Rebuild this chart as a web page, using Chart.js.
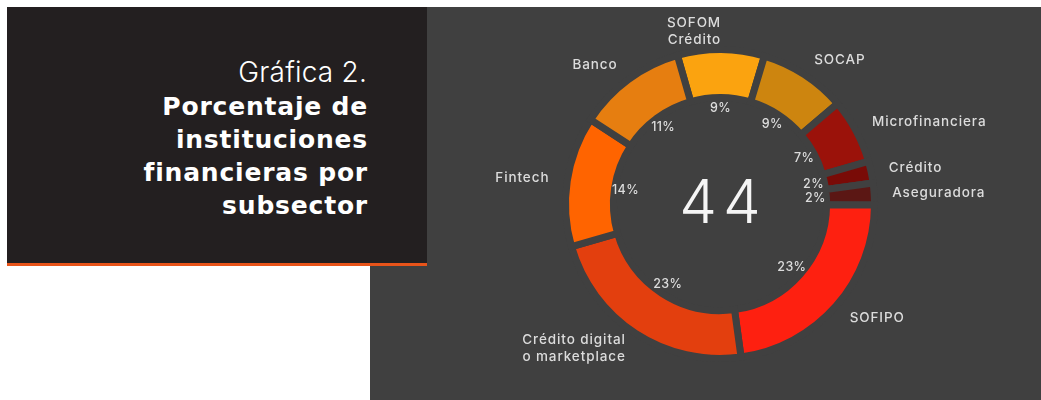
<!DOCTYPE html>
<html lang="es">
<head>
<meta charset="utf-8">
<title>Gráfica 2. Porcentaje de instituciones financieras por subsector</title>
<script src="https://cdn.jsdelivr.net/npm/chart.js@4.4.1/dist/chart.umd.min.js"></script>
<style>
  html, body { margin: 0; padding: 0; background: #ffffff; }
  body { width: 1041px; height: 400px; position: relative; overflow: hidden; font-family: Inter, "Open Sans", sans-serif; }
  .panel { position: absolute; left: 370px; top: 7px; width: 671px; height: 393px; background: #404040; }
  .panel canvas { position: absolute; left: 0; top: 0; }
  .title-box { position: absolute; left: 7px; top: 7px; width: 420px; height: 256px; background: #231f20; border-bottom: 3px solid #e8541a; }
  .title-box .t1, .title-box .t2 { position: absolute; left: 0; width: 360px; text-align: right; color: #ffffff; }
  .t1 { top: 49px; font-size: 28px; line-height: 32px; font-weight: 300; letter-spacing: 0.2px; }
  .t2 { top: 83px; width: 361px !important; font-family: "DejaVu Sans", Inter, sans-serif; font-size: 25px; line-height: 33px; font-weight: 700; letter-spacing: 0.8px; }
</style>
</head>
<body>
<div class="panel"><canvas id="donut" width="671" height="393"></canvas></div>
<div class="title-box">
  <div class="t1">Gráfica 2.</div>
  <div class="t2">Porcentaje de<br>instituciones<br>financieras por<br>subsector</div>
</div>
<script>
// subsectors, clockwise starting at the top
const subsectors = [
  ['SOFOM', 'Crédito'],
  'SOCAP',
  'Microfinanciera',
  'Crédito',
  'Aseguradora',
  'SOFIPO',
  ['Crédito digital', 'o marketplace'],
  'Fintech',
  'Banco'
];

// number of institutions per subsector (44 in total)
const institutions = [4, 4, 3, 1, 1, 10, 10, 6, 5];

const sliceColors = [
  '#fba30f', '#cd850f', '#9b120a', '#790b07', '#5b1714',
  '#fe2010', '#e33f0e', '#ff6400', '#e67e10'
];

const PANEL_BG = '#404040';
const TEXT_COLOR = '#dcdcdc';

const total = institutions.reduce((sum, v) => sum + v, 0);

const labelsPlugin = {
  id: 'sliceLabels',
  afterDatasetsDraw(chart) {
    const ctx = chart.ctx;
    const meta = chart.getDatasetMeta(0);
    ctx.save();
    meta.data.forEach((arc, i) => {
      const { x, y, startAngle, endAngle, innerRadius, outerRadius } =
        arc.getProps(['x', 'y', 'startAngle', 'endAngle', 'innerRadius', 'outerRadius'], true);
      const mid = (startAngle + endAngle) / 2;
      const cos = Math.cos(mid);
      const sin = Math.sin(mid);

      // percentage just inside the ring
      const pr = innerRadius - 11;
      ctx.fillStyle = TEXT_COLOR;
      ctx.font = '500 12.5px Inter, "Open Sans", sans-serif';
      ctx.letterSpacing = '0.4px';
      ctx.textAlign = 'center';
      ctx.textBaseline = 'middle';
      const pct = Math.round(institutions[i] / total * 100) + '%';
      ctx.fillText(pct, x + cos * pr, y + sin * pr);

      // subsector name outside the ring
      const nr = outerRadius + 18;
      const lines = [].concat(subsectors[i]);
      const lh = 17;
      const lx = x + cos * nr;
      const ly = y + sin * nr - (lines.length - 1) * lh / 2;
      ctx.font = '500 13.5px Inter, "Open Sans", sans-serif';
      ctx.letterSpacing = '0.9px';
      ctx.textAlign = cos > 0.02 ? 'left' : 'right';
      lines.forEach((line, j) => ctx.fillText(line, lx, ly + j * lh));
    });

    // total in the centre
    const c = meta.data[0];
    ctx.fillStyle = '#f5f5f5';
    ctx.font = '300 60px Inter, "Open Sans", sans-serif';
    ctx.letterSpacing = '6px';
    ctx.textAlign = 'center';
    ctx.textBaseline = 'alphabetic';
    ctx.fillText(String(total), c.x + 3, c.y + 19);
    ctx.restore();
  }
};

new Chart(document.getElementById('donut'), {
  type: 'doughnut',
  data: {
    labels: subsectors,
    datasets: [{
      data: institutions,
      backgroundColor: sliceColors,
      borderColor: PANEL_BG,
      borderWidth: 7,
      borderJoinStyle: 'miter',
      hoverOffset: 0
    }]
  },
  options: {
    responsive: false,
    animation: false,
    rotation: -16,
    cutout: '69%',
    layout: { padding: { left: 192, right: 163, top: 39, bottom: 38 } },
    plugins: {
      legend: { display: false },
      tooltip: { enabled: false }
    }
  },
  plugins: [labelsPlugin]
});
</script>
</body>
</html>
